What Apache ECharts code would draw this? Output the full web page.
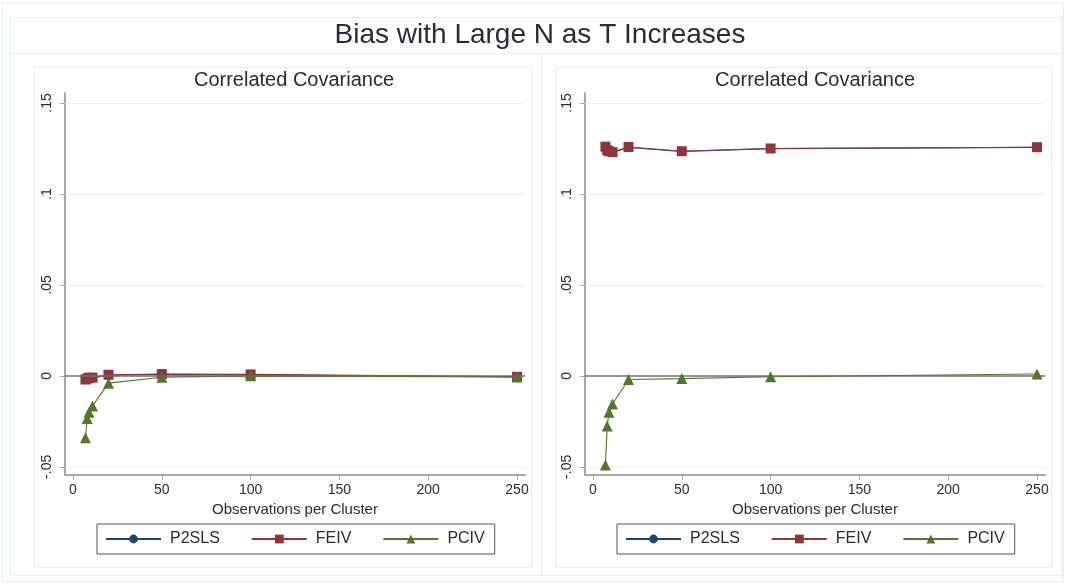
<!DOCTYPE html>
<html><head><meta charset="utf-8">
<script src="https://cdn.jsdelivr.net/npm/echarts@6/dist/echarts.min.js"></script>
<style>html,body{margin:0;padding:0;background:#fff}#c{width:1066px;height:585px}</style>
</head><body><div id="c"></div>
<script>
// ---- data ----
const obsPerCluster = [7, 8, 9, 11, 20, 50, 100, 250];
const leftP2SLS = [-0.0022, -0.0016, -0.0012, -0.0011, 0.0003, 0.0008, 0.0006, -0.0006];
const leftFEIV  = [-0.0020, -0.0015, -0.0010, -0.0010, 0.0006, 0.0010, 0.0008, -0.0005];
const leftPCIV  = [-0.0340, -0.0235, -0.0200, -0.0165, -0.0040, -0.0008, 0.0000, -0.0006];
const rightP2SLS = [0.1257, 0.1238, 0.1232, 0.1228, 0.1255, 0.1234, 0.1249, 0.1256];
const rightFEIV  = [0.1260, 0.1240, 0.1235, 0.1230, 0.1258, 0.1235, 0.1250, 0.1257];
const rightPCIV  = [-0.0490, -0.0275, -0.0200, -0.0155, -0.0020, -0.0015, -0.0005, 0.0010];
const xTicks = [0, 50, 100, 150, 200, 250];
const yTicks = [-0.05, 0, 0.05, 0.1, 0.15];
const yTickLabels = ['-.05', '0', '.05', '.1', '.15'];
const seriesNames = ['P2SLS', 'FEIV', 'PCIV'];
const mainTitle = 'Bias with Large N as T Increases';
const panelTitle = 'Correlated Covariance';
const xAxisTitle = 'Observations per Cluster';

// ---- styling ----
const colors = ['#1a476f', '#90353b', '#55752f'];
const symbols = ['circle', 'rect', 'triangle'];
const symbolSizes = [9, 10, 11];
const font = 'Liberation Sans, Arial, sans-serif';
const txt = '#2a2a3a';
const axisGray = '#a8a8a8';

const grids = [
  {left: 65, top: 93, width: 460, height: 382},
  {left: 585, top: 93, width: 460, height: 382}
];

function yFmt(v) {
  for (let i = 0; i < yTicks.length; i++) if (Math.abs(yTicks[i] - v) < 1e-9) return yTickLabels[i];
  return '';
}

const xAxes = grids.map((g, i) => ({
  gridIndex: i, type: 'value', min: -4.5, max: 254.5, position: 'bottom',
  name: xAxisTitle, nameLocation: 'middle', nameGap: 25,
  nameTextStyle: {fontFamily: font, fontSize: 15, color: txt},
  axisLine: {show: true, onZero: false, lineStyle: {color: axisGray, width: 2}},
  axisTick: {show: true, length: 5, customValues: xTicks, lineStyle: {color: axisGray, width: 1}},
  axisLabel: {customValues: xTicks, margin: 8, fontFamily: font, fontSize: 14, color: txt},
  splitLine: {show: false}
}));
const yAxes = grids.map((g, i) => ({
  gridIndex: i, type: 'value', min: -0.0545, max: 0.1555, position: 'left',
  axisLine: {show: true, onZero: false, lineStyle: {color: axisGray, width: 2}},
  axisTick: {show: true, length: 5, customValues: yTicks, lineStyle: {color: axisGray, width: 1}},
  axisLabel: {customValues: yTicks, rotate: 90, margin: 11, fontFamily: font, fontSize: 14, color: txt, formatter: yFmt},
  splitLine: {show: false}
}));

const panelData = [[leftP2SLS, leftFEIV, leftPCIV], [rightP2SLS, rightFEIV, rightPCIV]];
const series = [];
panelData.forEach((sets, gi) => {
  sets.forEach((vals, si) => {
    const s = {
      name: seriesNames[si], type: 'line', xAxisIndex: gi, yAxisIndex: gi,
      data: obsPerCluster.map((x, k) => [x, vals[k]]),
      symbol: symbols[si], symbolSize: symbolSizes[si], showSymbol: true,
      itemStyle: {color: colors[si]},
      lineStyle: {color: colors[si], width: 1.1},
      z: 3 + si, animation: false
    };
    if (si === 0) {
      s.markLine = {
        silent: true, symbol: 'none', label: {show: false}, animation: false,
        data: yTicks.filter(v => v !== 0).map(v => ({yAxis: v, lineStyle: {color: '#e8f0f2', width: 1, type: 'solid'}}))
          .concat([{yAxis: 0, lineStyle: {color: '#6e6e6e', width: 1.6, type: 'solid'}}])
      };
    }
    series.push(s);
  });
});

const legendCommon = {
  data: seriesNames, orient: 'horizontal', itemWidth: 55, itemHeight: 11, itemGap: 31,
  padding: [7, 10, 7, 8], borderColor: '#555', borderWidth: 1, backgroundColor: '#fff',
  textStyle: {fontFamily: font, fontSize: 16, color: txt, padding: [0, 0, 0, 4]},
  selectedMode: false
};

const faint = '#e4ecef';
const option = {
  backgroundColor: '#ffffff',
  animation: false,
  title: [
    {text: mainTitle, left: 540, top: 21, textAlign: 'center', padding: 0,
     textStyle: {fontFamily: font, fontSize: 28, fontWeight: 'normal', color: '#2a2a3a'}},
    {text: panelTitle, left: 294, top: 70, textAlign: 'center', padding: 0,
     textStyle: {fontFamily: font, fontSize: 20, fontWeight: 'normal', color: txt}},
    {text: panelTitle, left: 815, top: 70, textAlign: 'center', padding: 0,
     textStyle: {fontFamily: font, fontSize: 20, fontWeight: 'normal', color: txt}}
  ],
  legend: [
    Object.assign({}, legendCommon, {left: 97, top: 524}),
    Object.assign({}, legendCommon, {left: 617, top: 524})
  ],
  graphic: [
    {type: 'rect', shape: {x: 2.5, y: 3.5, width: 1061, height: 578}, style: {fill: 'none', stroke: faint, lineWidth: 1}, silent: true, z: -10},
    {type: 'rect', shape: {x: 10.5, y: 17.5, width: 1051, height: 36}, style: {fill: 'none', stroke: faint, lineWidth: 1}, silent: true, z: -10},
    {type: 'rect', shape: {x: 10.5, y: 53.5, width: 531, height: 522}, style: {fill: 'none', stroke: faint, lineWidth: 1}, silent: true, z: -10},
    {type: 'rect', shape: {x: 541.5, y: 53.5, width: 520, height: 522}, style: {fill: 'none', stroke: faint, lineWidth: 1}, silent: true, z: -10},
    {type: 'rect', shape: {x: 34.5, y: 67.5, width: 497, height: 500}, style: {fill: 'none', stroke: faint, lineWidth: 1}, silent: true, z: -10},
    {type: 'rect', shape: {x: 555.5, y: 67.5, width: 496, height: 500}, style: {fill: 'none', stroke: faint, lineWidth: 1}, silent: true, z: -10}
  ],
  grid: grids,
  xAxis: xAxes,
  yAxis: yAxes,
  series: series
};

const chart = echarts.init(document.getElementById('c'), null, {renderer: 'canvas'});
chart.setOption(option);
</script>
</body></html>
